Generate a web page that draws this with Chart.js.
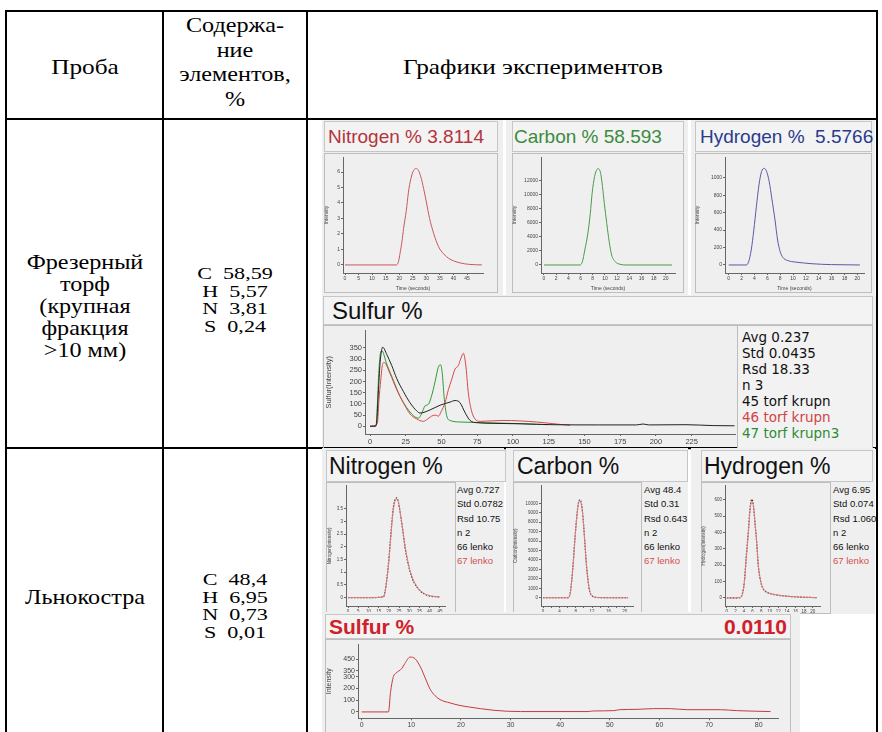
<!DOCTYPE html>
<html lang="ru">
<head>
<meta charset="utf-8">
<title>Графики экспериментов</title>
<script src="https://cdn.jsdelivr.net/npm/chart.js@4.4.1/dist/chart.umd.min.js"></script>
<style>
  html, body { margin: 0; padding: 0; background: #fff; }
  #page { position: relative; width: 882px; height: 732px; overflow: hidden; }
  .ln { position: absolute; background: #000; }
  .tx { position: absolute; font-family: 'Liberation Serif', 'Times New Roman', serif; color: #000;
        white-space: nowrap; text-align: center; transform: translateX(-50%) scaleX(1.15); }
  .panel { position: absolute; background: #efefef; }
  .tbox { position: absolute; box-sizing: border-box; background: #f3f3f3; border: 1px solid #c6c6c6;
          font-family: 'Liberation Sans', Arial, sans-serif; white-space: nowrap; }
  .frame { position: absolute; box-sizing: border-box; border: 1px solid #bdbdbd; }
  .stats { position: absolute; white-space: nowrap; color: #111; }
  canvas { position: absolute; }
</style>
</head>
<body>
<div id="page">
  <!-- таблица -->
  <div class="ln" style="left:6px;top:10px;width:872px;height:2px"></div>
  <div class="ln" style="left:6px;top:118px;width:872px;height:2px"></div>
  <div class="ln" style="left:6px;top:447px;width:872px;height:2px"></div>
  <div class="ln" style="left:5px;top:10px;width:2px;height:722px"></div>
  <div class="ln" style="left:162px;top:10px;width:2px;height:722px"></div>
  <div class="ln" style="left:306px;top:10px;width:2px;height:722px"></div>
  <div class="ln" style="left:876px;top:10px;width:2px;height:722px"></div>

  <div class="tx" style="left:85px;top:54px;font-size:22px;line-height:26px">Проба</div>
  <div class="tx" style="left:235px;top:13px;font-size:21px;line-height:24.5px">Содержа-<br>ние<br>элементов,<br>%</div>
  <div class="tx" style="left:533px;top:54px;font-size:22px;line-height:26px">Графики экспериментов</div>

  <div class="tx" style="left:85px;top:251px;font-size:21px;line-height:22px">Фрезерный<br>торф<br>(крупная<br>фракция<br>&gt;10 мм)</div>
  <div class="tx" style="left:235px;top:265px;font-size:17px;line-height:17.5px;transform:translateX(-50%) scaleX(1.3)">C&nbsp; 58,59<br>H&nbsp; 5,57<br>N&nbsp; 3,81<br>S&nbsp; 0,24</div>
  <div class="tx" style="left:85px;top:586px;font-size:21px;line-height:22px">Льнокостра</div>
  <div class="tx" style="left:235px;top:571px;font-size:17px;line-height:17.7px;transform:translateX(-50%) scaleX(1.3)">C&nbsp; 48,4<br>H&nbsp; 6,95<br>N&nbsp; 0,73<br>S&nbsp; 0,01</div>

  <!-- строка 1 -->
  <div class="panel" style="left:322px;top:120px;width:181px;height:175px"></div>
  <div class="tbox" style="left:324px;top:121px;width:174px;height:31px;line-height:29px;padding-left:3px;font-size:19px;color:#b4343c">Nitrogen % 3.8114</div>
  <div class="frame" style="left:324px;top:153px;width:174px;height:140px"></div>
  <canvas id="n1" width="166" height="140" style="left:324px;top:152px"></canvas>

  <div class="panel" style="left:506px;top:120px;width:182px;height:175px"></div>
  <div class="tbox" style="left:512px;top:121px;width:172px;height:31px;line-height:29px;padding-left:1px;font-size:19px;color:#3b8a3e">Carbon % 58.593</div>
  <div class="frame" style="left:512px;top:153px;width:172px;height:140px"></div>
  <canvas id="c1" width="170" height="140" style="left:512px;top:152px"></canvas>

  <div class="panel" style="left:691px;top:120px;width:184px;height:175px"></div>
  <div class="tbox" style="left:695px;top:121px;width:177px;height:31px;line-height:29px;padding-left:4px;font-size:19px;color:#2a3b8c">Hydrogen %&nbsp; 5.5766</div>
  <div class="frame" style="left:695px;top:153px;width:177px;height:140px"></div>
  <canvas id="h1" width="175" height="140" style="left:695px;top:152px"></canvas>

  <div class="panel" style="left:322px;top:295px;width:554px;height:152px"></div>
  <div class="tbox" style="left:323px;top:296px;width:550px;height:29px;line-height:27px;padding-left:8px;font-size:24px;color:#111">Sulfur %</div>
  <div class="frame" style="left:323px;top:325px;width:415px;height:125px"></div>
  <div class="frame" style="left:737px;top:325px;width:136px;height:125px;background:#f2f2f2"></div>
  <canvas id="s1" width="412" height="121" style="left:324px;top:325px"></canvas>
  <div class="stats" id="s1stats" style="left:742px;top:329px;font:13.5px/16px 'DejaVu Sans',sans-serif"></div>

  <!-- строка 2 -->
  <div class="panel" style="left:322px;top:448px;width:182px;height:166px"></div>
  <div class="tbox" style="left:326px;top:450px;width:180px;height:32px;line-height:30px;padding-left:2px;font-size:23px;color:#111">Nitrogen %</div>
  <div class="frame" style="left:326px;top:482px;width:130px;height:132px"></div>
  <canvas id="n2" width="124" height="138" style="left:327px;top:482px"></canvas>
  <div class="stats" id="n2stats" style="left:457px;top:483px;font:9.5px/14.3px 'Liberation Sans',sans-serif"></div>

  <div class="panel" style="left:506px;top:448px;width:182px;height:166px"></div>
  <div class="tbox" style="left:513px;top:450px;width:175px;height:32px;line-height:30px;padding-left:3px;font-size:23px;color:#111">Carbon %</div>
  <div class="frame" style="left:513px;top:482px;width:129px;height:132px"></div>
  <canvas id="c2" width="124" height="138" style="left:513px;top:482px"></canvas>
  <div class="stats" id="c2stats" style="left:644px;top:483px;font:9.5px/14.3px 'Liberation Sans',sans-serif"></div>

  <div class="panel" style="left:691px;top:448px;width:184px;height:166px"></div>
  <div class="tbox" style="left:701px;top:450px;width:172px;height:32px;line-height:30px;padding-left:2px;font-size:23px;color:#111">Hydrogen %</div>
  <div class="frame" style="left:701px;top:482px;width:130px;height:132px"></div>
  <canvas id="h2" width="124" height="138" style="left:701px;top:482px"></canvas>
  <div class="stats" id="h2stats" style="left:833px;top:483px;font:9.5px/14.3px 'Liberation Sans',sans-serif"></div>

  <div class="panel" style="left:322px;top:612px;width:478px;height:120px"></div>
  <div class="tbox" style="left:325px;top:614px;width:466px;height:25px;line-height:23px;padding:0 3px;font-size:21px;font-weight:bold;color:#d0202a">Sulfur %<span style="float:right">0.0110</span></div>
  <div class="frame" style="left:325px;top:639px;width:466px;height:100px"></div>
  <canvas id="s2" width="465" height="101" style="left:325px;top:639px"></canvas>
</div>

<script>
// ---- значения ----

// Nitrogen %, фрезерный торф
const N1_T = [0, 10, 18.9, 19.7, 20.3, 21.0, 21.6, 22.6, 23.4, 24.3, 25.3, 26.3, 27.1, 28.0, 29.0, 30.0, 31.2, 32.7, 34.5, 36.4, 38.2, 40.1, 42.5, 45.6, 50.5];
const N1_V = [0, 0, 0, 0.2, 0.75, 1.5, 2.35, 3.5, 4.7, 5.57, 6.1, 6.23, 6.1, 5.67, 4.93, 4.07, 3.0, 2.03, 1.18, 0.71, 0.43, 0.26, 0.13, 0.04, 0];
const N1_XTICKS = [0, 5, 10, 15, 20, 25, 30, 35, 40, 45];
const N1_YTICKS = [0, 1, 2, 3, 4, 5, 6];

// Carbon %
const C1_T = [0, 3, 5.9, 6.3, 6.7, 7.2, 7.6, 7.9, 8.3, 8.7, 8.9, 9.3, 9.6, 9.9, 10.3, 10.7, 11.1, 11.7, 12.5, 13.6, 21];
const C1_V = [0, 0, 0, 474, 2135, 4507, 7353, 10200, 12570, 13615, 13710, 13045, 11150, 8776, 5930, 3320, 1423, 474, 95, 0, 0];
const C1_XTICKS = [0, 2, 4, 6, 8, 10, 12, 14, 16, 18, 20];
const C1_YTICKS = [0, 2000, 4000, 6000, 8000, 10000, 12000];

// Hydrogen %
const H1_T = [0, 2.75, 3.1, 3.5, 3.9, 4.3, 4.7, 5.1, 5.5, 5.9, 6.3, 6.7, 7.2, 7.6, 8.0, 8.4, 9.2, 10.3, 11.6, 12.8, 14.4, 16.0, 20.4];
const H1_V = [0, 0, 38, 172, 400, 668, 916, 1069, 1107, 1069, 954, 763, 515, 286, 153, 88, 50, 34, 23, 15, 8, 4, 0];
const H1_XTICKS = [0, 2, 4, 6, 8, 10, 12, 14, 16, 18, 20];
const H1_YTICKS = [0, 200, 400, 600, 800, 1000];

// Sulfur %, три пробы
const S1_T45 = [0, 4, 4.7, 5.8, 7, 8.2, 8.9, 11.7, 15.2, 18.7, 23.3, 28, 32.6, 35, 42, 49, 56, 59.5, 63, 66.4, 70, 74.6, 86, 105, 128, 160, 186.5, 191, 195, 221, 240, 255];
const S1_V45 = [0, 0, 19, 148, 278, 343, 353, 321, 271, 213, 156, 105, 69, 59, 73, 94, 108, 115, 105, 62, 26, 16, 13, 11, 7, 6, 6, 10, 6, 7, 3, 2];
const S1_T46 = [0, 5.1, 6.3, 7.5, 8.6, 9.8, 14, 18.7, 23.3, 28, 32.6, 37.3, 39.6, 43, 45.5, 47.8, 50, 52.5, 54.8, 57, 59.5, 61.8, 63.4, 65.3, 66.9, 68.8, 71, 73.4, 77, 93, 116.6, 128, 140];
const S1_V46 = [0, 12, 120, 206, 271, 285, 235, 163, 105, 55, 33, 22, 29, 45, 50, 45, 69, 105, 163, 206, 256, 271, 300, 326, 278, 148, 69, 33, 22, 26, 19, 11.5, 4];
const S1_T47 = [0, 4.2, 5.1, 6.1, 7, 8.2, 11.7, 16.3, 21, 25.6, 30.3, 33.8, 36, 38.5, 40.8, 43, 45.5, 47.8, 49.3, 50.5, 51.8, 53.6, 56, 63, 81.6, 105, 124];
const S1_V47 = [0, 4, 91, 235, 314, 338, 278, 206, 134, 84, 48, 36, 55, 91, 98, 134, 199, 264, 275, 240, 134, 48, 26, 19, 16, 11.5, 7];
const S1_XTICKS = [0, 25, 50, 75, 100, 125, 150, 175, 200, 225];
const S1_YTICKS = [0, 50, 100, 150, 200, 250, 300, 350];
const S1_STATS = ['Avg 0.237', 'Std 0.0435', 'Rsd 18.33', 'n 3', '45 torf krupn', '46 torf krupn', '47 torf krupn3'];

// Льнокостра: Nitrogen %
const N2_T = [0, 10, 17.3, 18.1, 18.9, 19.8, 20.6, 21.4, 22.2, 23.0, 23.9, 24.7, 25.5, 26.8, 27.9, 29.6, 31.2, 33.7, 37.0, 41.0, 45.0];
const N2_V66 = [0, 0, 0.03, 0.22, 0.68, 1.34, 2.12, 2.91, 3.56, 3.85, 3.93, 3.76, 3.37, 2.65, 1.99, 1.27, 0.81, 0.42, 0.16, 0.05, 0.03];
const N2_V67 = [0, 0, 0.03, 0.2, 0.62, 1.25, 2.02, 2.82, 3.48, 3.8, 3.88, 3.74, 3.38, 2.7, 2.05, 1.32, 0.85, 0.45, 0.18, 0.06, 0.03];
const N2_XTICKS = [0, 5, 10, 15, 20, 25, 30, 35, 40, 45];
const N2_YTICKS = [0, 0.5, 1, 1.5, 2, 2.5, 3, 3.5];
const N2_STATS = ['Avg 0.727', 'Std 0.0782', 'Rsd 10.75', 'n 2', '66 lenko', '67 lenko'];

// Carbon %
const C2_T = [0, 4, 6.2, 6.6, 7.0, 7.4, 7.8, 8.2, 8.6, 9.0, 9.4, 9.8, 10.2, 10.6, 11.0, 11.4, 12.0, 13.1, 17, 20.8];
const C2_V66 = [0, 0, 0, 415, 1800, 3875, 6300, 8370, 9930, 10380, 9930, 8370, 5950, 3530, 1800, 690, 210, 35, 0, 0];
const C2_V67 = [0, 0, 0, 380, 1700, 3700, 6150, 8250, 9850, 10250, 9850, 8400, 6050, 3650, 1880, 730, 230, 40, 0, 0];
const C2_XTICKS = [0, 2, 4, 6, 8, 10, 12, 14, 16, 18, 20];
const C2_YTICKS = [0, 1000, 2000, 3000, 4000, 5000, 6000, 7000, 8000, 9000, 10000];
const C2_STATS = ['Avg 48.4', 'Std 0.31', 'Rsd 0.643', 'n 2', '66 lenko', '67 lenko'];

// Hydrogen %
const H2_T = [0, 3.1, 3.6, 4.1, 4.5, 5.0, 5.4, 5.8, 6.2, 6.6, 7.0, 7.3, 7.7, 8.3, 9.0, 10.0, 11.6, 13.5, 16.6, 20.9];
const H2_V66 = [0, 2, 24, 104, 244, 404, 544, 604, 564, 444, 324, 204, 124, 64, 40, 28, 18, 12, 6, 2];
const H2_V67 = [0, 2, 20, 95, 230, 390, 530, 592, 560, 450, 332, 212, 130, 68, 42, 29, 19, 12, 6, 2];
const H2_XTICKS = [0, 2, 4, 6, 8, 10, 12, 14, 16, 18, 20];
const H2_YTICKS = [0, 100, 200, 300, 400, 500, 600];
const H2_STATS = ['Avg 6.95', 'Std 0.074', 'Rsd 1.060', 'n 2', '66 lenko', '67 lenko'];

// Sulfur %
const S2_T = [0, 5.4, 5.8, 6.4, 6.9, 8.1, 8.7, 9.75, 10.75, 11.8, 12.8, 13.8, 14.8, 15.8, 17.8, 19.8, 21.8, 23.9, 26.6, 29.2, 32, 45.4, 46.7, 50.8, 52, 55.5, 58.8, 62.2, 65.5, 72.3, 75.6, 82.4];
const S2_V = [0, 0, 166, 304, 331, 373, 414, 469, 455, 387, 290, 193, 138, 105, 77, 55, 41, 28, 14, 6, 3, 3, 8, 11, 19, 22, 28, 28, 19, 19, 11, 3];
const S2_XTICKS = [0, 10, 20, 30, 40, 50, 60, 70, 80];
const S2_YTICKS = [0, 100, 200, 300, 350, 450];

// ---- построение ----

function pts(t, v) {
    return t.map((x, i) => ({ x: x, y: v[i] }));
}

function axis(range, ticks, fit, fs, title, label) {
    const f = { family: "'Liberation Sans', Arial, sans-serif", size: fs };
    return {
        type: 'linear', min: range[0], max: range[1],
        afterBuildTicks: s => { s.ticks = ticks.map(v => ({ value: v })); },
        afterFit: fit,
        ticks: { font: f, color: '#444', padding: 1, maxRotation: 0, autoSkip: false, callback: label || (v => String(v)) },
        grid: { drawOnChartArea: false, tickLength: 2, color: '#666' },
        border: { color: '#666', width: 1 },
        title: { display: !!title, text: title, font: f, color: '#444', padding: 0 }
    };
}

function plot(id, sets, o) {
    new Chart(document.getElementById(id), {
        type: 'line',
        data: {
            datasets: sets.map(s => ({
                data: pts(s.t, s.v),
                borderColor: s.c,
                borderWidth: s.w || 1,
                borderDash: s.d || [],
                pointRadius: 0,
                cubicInterpolationMode: 'monotone',
                fill: false
            }))
        },
        options: {
            responsive: false,
            animation: false,
            events: [],
            layout: { padding: { top: o.pt, right: o.pr, left: 0, bottom: 0 } },
            plugins: { legend: { display: false }, tooltip: { enabled: false } },
            scales: {
                x: axis(o.x, o.xt, s => { s.height = o.xh; }, o.fs, o.xtitle, o.xl),
                y: axis(o.y, o.yt, s => { s.width = o.yw; }, o.fs, o.ytitle)
            }
        }
    });
}

function stats(id, lines, colors) {
    const el = document.getElementById(id);
    el.innerHTML = lines.map((l, i) => '<div style="color:' + (colors[i] || '#111') + '">' + l + '</div>').join('');
}

plot('n1', [{ t: N1_T, v: N1_V, c: '#c9575c' }],
    { x: [-0.74, 50.9], xt: N1_XTICKS, y: [-0.52, 6.97], yt: N1_YTICKS, yw: 19, xh: 19, pt: 5, pr: 7, fs: 5, xtitle: 'Time (seconds)', ytitle: 'Intensity' });

plot('c1', [{ t: C1_T, v: C1_V, c: '#4a9a4a' }],
    { x: [-0.49, 21.5], xt: C1_XTICKS, y: [-1139, 15374], yt: C1_YTICKS, yw: 29, xh: 19, pt: 5, pr: 7, fs: 5, xtitle: 'Time (seconds)', ytitle: 'Intensity' });

plot('h1', [{ t: H1_T, v: H1_V, c: '#5a5aa6' }],
    { x: [-0.58, 21.04], xt: H1_XTICKS, y: [-92, 1237], yt: H1_YTICKS, yw: 30, xh: 19, pt: 5, pr: 6, fs: 5, xtitle: 'Time (seconds)', ytitle: 'Intensity' });

plot('s1', [
        { t: S1_T45, v: S1_V45, c: '#222' },
        { t: S1_T46, v: S1_V46, c: '#d8484a' },
        { t: S1_T47, v: S1_V47, c: '#2f9a34' }
    ],
    { x: [-3.5, 255.3], xt: S1_XTICKS, y: [-34.6, 427.8], yt: S1_YTICKS, yw: 41, xh: 12, pt: 2, pr: 1, fs: 7.5, ytitle: 'Sulfur(Intensity)' });
stats('s1stats', S1_STATS, ['#111', '#111', '#111', '#111', '#111', '#d04444', '#2e8b36']);

const LENKO = [{ c: '#333', d: [1.5, 1.5], w: 1.2 }, { c: '#e27a7a', w: 1 }];

plot('n2', [
        { t: N2_T, v: N2_V67, c: LENKO[1].c, w: LENKO[1].w },
        { t: N2_T, v: N2_V66, c: LENKO[0].c, d: LENKO[0].d, w: LENKO[0].w }
    ],
    { x: [-1, 47.5], xt: N2_XTICKS, y: [-0.33, 4.41], yt: N2_YTICKS, yw: 19, xh: 14, pt: 3, pr: 6, fs: 4.5, ytitle: 'Nitrogen(Intensity)' });
stats('n2stats', N2_STATS, ['#111', '#111', '#111', '#111', '#111', '#d05050']);

plot('c2', [
        { t: C2_T, v: C2_V67, c: LENKO[1].c, w: LENKO[1].w },
        { t: C2_T, v: C2_V66, c: LENKO[0].c, d: LENKO[0].d, w: LENKO[0].w }
    ],
    { x: [-0.5, 22], xt: C2_XTICKS, xl: v => (v % 4 === 0 ? String(v) : ''), y: [-872, 11869], yt: C2_YTICKS, yw: 28, xh: 14, pt: 1, pr: 4, fs: 4.5, ytitle: 'Carbon(Intensity)' });
stats('c2stats', C2_STATS, ['#111', '#111', '#111', '#111', '#111', '#d05050']);

plot('h2', [
        { t: H2_T, v: H2_V67, c: LENKO[1].c, w: LENKO[1].w },
        { t: H2_T, v: H2_V66, c: LENKO[0].c, d: LENKO[0].d, w: LENKO[0].w }
    ],
    { x: [-0.42, 21.7], xt: H2_XTICKS, y: [-49, 686], yt: H2_YTICKS, yw: 24, xh: 14, pt: 1, pr: 5, fs: 4.5, ytitle: 'Hydrogen(Intensity)' });
stats('h2stats', H2_STATS, ['#111', '#111', '#111', '#111', '#111', '#d05050']);

plot('s2', [{ t: S2_T, v: S2_V, c: '#c8383c' }],
    { x: [-0.75, 83.9], xt: S2_XTICKS, y: [-54.6, 579], yt: S2_YTICKS, yw: 33, xh: 21.7, pt: 2.7, pr: 12, fs: 7, xtitle: 'Time (seconds)', ytitle: 'Intensity' });
</script>
</body>
</html>
